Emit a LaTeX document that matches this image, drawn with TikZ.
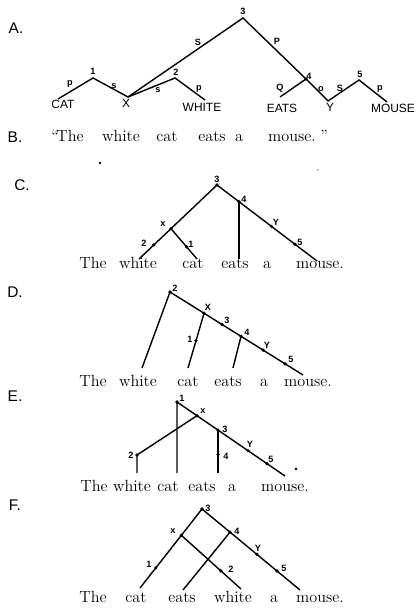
\documentclass[tikz,border=0pt]{standalone}
\usepackage{fontspec}
\newfontfamily\letterfont{Liberation Sans}
\usetikzlibrary{calc}

\begin{document}
\begin{tikzpicture}[x=0.025cm,y=-0.025cm,line width=1pt,
    panel/.style={font=\letterfont\fontsize{11}{13}\selectfont},
    capword/.style={font=\letterfont\fontsize{8.5}{10}\selectfont,inner sep=0pt,anchor=base},
    word/.style={font=\fontsize{11.5}{14}\selectfont,inner sep=0pt,anchor=base},
    lab/.style={font=\letterfont\bfseries\fontsize{6.5}{7}\selectfont,inner sep=0pt},
    dot/.style={circle,fill,inner sep=0pt,minimum size=2.6pt},
    speck/.style={circle,fill,inner sep=0pt,minimum size=2pt}]
\useasboundingbox (0,0) rectangle (416,609);

% A
\node[panel] (pa) at (16,28) {A.};
\coordinate (a3) at (243,18);
\coordinate (a1) at (93,78);
\coordinate (a2) at (175,78);
\coordinate (ax) at (128,97);
\coordinate (a4) at (306,79);
\coordinate (a5) at (359,80);
\coordinate (ay) at (328,101);
\coordinate (acat) at (58,99);
\coordinate (awhite) at (205,100);
\coordinate (aeats) at (280,97);
\coordinate (amouse) at (387,102);
\draw (acat) -- (a1) -- (ax) -- (a3) -- (a4) -- (ay) -- (a5) -- (amouse);
\draw (ax) -- (a2) -- (awhite);
\draw (a4) -- (aeats);
\node[dot] (a4dot) at (a4) {};
\node[lab] (la3) at (243,11) {3};
\node[lab] (la1) at (93,71) {1};
\node[lab] (la2) at (176,72) {2};
\node[lab] (la4) at (309,76) {4};
\node[lab] (la5) at (360,74) {5};
\node[lab] (lap1) at (70,84) {p};
\node[lab] (las1) at (114,86) {s};
\node[lab] (laS) at (198,42) {S};
\node[lab] (las2) at (158,90) {s};
\node[lab] (lap2) at (199,89) {p};
\node[lab] (laP) at (277,41) {P};
\node[lab] (laQ) at (280,88) {Q};
\node[lab] (lao) at (321,89) {o};
\node[lab] (laS2) at (340,88) {S};
\node[lab] (lap3) at (380,89) {p};
\node[capword] (acatw) at (63,109) {CAT};
\node[capword] (axw) at (126,108) {X};
\node[capword] (awhitew) at (202,112) {WHITE};
\node[capword] (aeatsw) at (282,113) {EATS};
\node[capword] (ayw) at (330,112) {Y};
\node[capword] (amousew) at (393,113) {MOUSE};

% B
\node[panel] (pb) at (15,137) {B.};
\node[word] (bql) at (55,142) {``};
\node[word] (bthe) at (70,142) {The};
\node[word] (bwhite) at (121,142) {white};
\node[word] (bcat) at (167,142) {cat};
\node[word] (beats) at (212,142) {eats};
\node[word] (ba) at (239,142) {a};
\node[word] (bmouse) at (292,142) {mouse.};
\node[word] (bqr) at (324,142) {''};
\node[speck] (sp1) at (100,163) {};
\node[speck,minimum size=1pt] (sp2) at (318,170) {};

% C
\node[panel] (pc) at (22,185) {C.};
\coordinate (c3) at (217,185);
\coordinate (cwhite) at (139,259);
\coordinate (cmouse) at (317,261);
\coordinate (cx) at ($(c3)!0.59!(cwhite)$);
\coordinate (c2) at ($(c3)!0.81!(cwhite)$);
\coordinate (c4) at ($(c3)!0.22!(cmouse)$);
\coordinate (cy) at ($(c3)!0.545!(cmouse)$);
\coordinate (c5) at ($(c3)!0.78!(cmouse)$);
\coordinate (ccat) at (197,259);
\coordinate (c1) at ($(cx)!0.6!(ccat)$);
\coordinate (ceats) at (c4 |- ccat);
\draw (cwhite) -- (cx) -- (c3) -- (c4) -- (cmouse);
\draw (cx) -- (ccat);
\draw (c4) -- (ceats);
\foreach \p in {c3,cx,c2,c4,cy,c5,c1} \node[dot] at (\p) {};
\node[lab] (lc3) at (217,179) {3};
\node[lab] (lcx) at (163,224) {x};
\node[lab] (lc4) at (244,199) {4};
\node[lab] (lcy) at (276,222) {Y};
\node[lab] (lc5) at (300,242) {5};
\node[lab] (lc2) at (144,243) {2};
\node[lab] (lc1) at (191,244) {1};
\node[word] (cthe) at (93,269) {The};
\node[word] (cwhitew) at (138,269) {white};
\node[word] (ccatw) at (193,269) {cat};
\node[word] (ceatsw) at (235,269) {eats};
\node[word] (caw) at (267,269) {a};
\node[word] (cmousew) at (320,269) {mouse.};

% D
\node[panel] (pd) at (15,292) {D.};
\coordinate (d2) at (170,292);
\coordinate (dend) at (303,375);
\coordinate (dwhite) at (142,368);
\coordinate (dx) at ($(d2)!0.256!(dend)$);
\coordinate (d3) at ($(d2)!0.39!(dend)$);
\coordinate (d4) at ($(d2)!0.534!(dend)$);
\coordinate (dy) at ($(d2)!0.70!(dend)$);
\coordinate (d5) at ($(d2)!0.865!(dend)$);
\coordinate (dcat) at (188,368);
\coordinate (d1) at ($(dx)!0.5!(dcat)$);
\coordinate (deats) at (233,368);
\draw (dwhite) -- (d2) -- (dx) -- (d4) -- (dend);
\draw (dx) -- (dcat);
\draw (d4) -- (deats);
\foreach \p in {d2,dx,d3,d4,dy,d5,d1} \node[dot] at (\p) {};
\node[lab] (ld2) at (175,288) {2};
\node[lab] (ldx) at (208,307) {X};
\node[lab] (ld3) at (227,320) {3};
\node[lab] (ld4) at (247,332) {4};
\node[lab] (ldy) at (267,345) {Y};
\node[lab] (ld5) at (291,359) {5};
\node[lab] (ld1) at (190,339) {1};
\node[word] (dthe) at (93,386) {The};
\node[word] (dwhitew) at (138,386) {white};
\node[word] (dcatw) at (188,386) {cat};
\node[word] (deatsw) at (228,386) {eats};
\node[word] (daw) at (264,386) {a};
\node[word] (dmousew) at (308,386) {mouse.};

% E
\node[panel] (pe) at (15,396) {E.};
\coordinate (e1) at (177,402);
\coordinate (eend) at (285,476);
\coordinate (ex) at ($(e1)!0.185!(eend)$);
\coordinate (e3) at ($(e1)!0.38!(eend)$);
\coordinate (ey) at ($(e1)!0.657!(eend)$);
\coordinate (e5) at ($(e1)!0.833!(eend)$);
\coordinate (e2) at (137,455);
\coordinate (ewhite) at (137,473);
\coordinate (ecat) at (177,473);
\coordinate (eeats) at (e3 |- ecat);
\coordinate (e4) at ($(e3)!0.57!(eeats)$);
\draw (ecat) -- (e1) -- (eend);
\draw (ex) -- (e2) -- (ewhite);
\draw (e3) -- (eeats);
\foreach \p in {e1,ex,e3,ey,e5,e2,e4} \node[dot] at (\p) {};
\node[lab] (le1) at (182,398) {1};
\node[lab] (lex) at (203,411) {x};
\node[lab] (le3) at (225,429) {3};
\node[lab] (ley) at (250,444) {Y};
\node[lab] (le5) at (271,459) {5};
\node[lab] (le2) at (131,455) {2};
\node[lab] (le4) at (226,456) {4};
\node[speck] (sp3) at (296,469) {};
\node[word] (ethe) at (94,491) {The};
\node[word] (ewhitew) at (132,491) {white};
\node[word] (ecatw) at (168,491) {cat};
\node[word] (eeatsw) at (202,491) {eats};
\node[word] (eaw) at (232,491) {a};
\node[word] (emousew) at (285,491) {mouse.};

% F
\node[panel] (pf) at (15,505) {F.};
\coordinate (f3) at (202,509);
\coordinate (fcat) at (140,588);
\coordinate (fmouse) at (300,590);
\coordinate (fx) at ($(f3)!0.333!(fcat)$);
\coordinate (f1) at ($(f3)!0.744!(fcat)$);
\coordinate (f4) at ($(f3)!0.286!(fmouse)$);
\coordinate (fy) at ($(f3)!0.56!(fmouse)$);
\coordinate (f5) at ($(f3)!0.765!(fmouse)$);
\coordinate (fwhite) at (241,589);
\coordinate (f2) at ($(fx)!0.66!(fwhite)$);
\coordinate (feats) at (183,590);
\draw (fcat) -- (fx) -- (f3) -- (f4) -- (fmouse);
\draw (fx) -- (fwhite);
\draw (f4) -- (feats);
\foreach \p in {f3,fx,f1,f4,fy,f5,f2} \node[dot] at (\p) {};
\node[lab] (lf3) at (208,508) {3};
\node[lab] (lfx) at (173,531) {x};
\node[lab] (lf4) at (237,531) {4};
\node[lab] (lfy) at (258,548) {Y};
\node[lab] (lf5) at (284,568) {5};
\node[lab] (lf1) at (149,564) {1};
\node[lab] (lf2) at (231,569) {2};
\node[word] (fthe) at (93,602) {The};
\node[word] (fcatw) at (136,602) {cat};
\node[word] (featsw) at (182,602) {eats};
\node[word] (fwhitew) at (233,602) {white};
\node[word] (faw) at (274,602) {a};
\node[word] (fmousew) at (320,602) {mouse.};
\end{tikzpicture}
\end{document}
